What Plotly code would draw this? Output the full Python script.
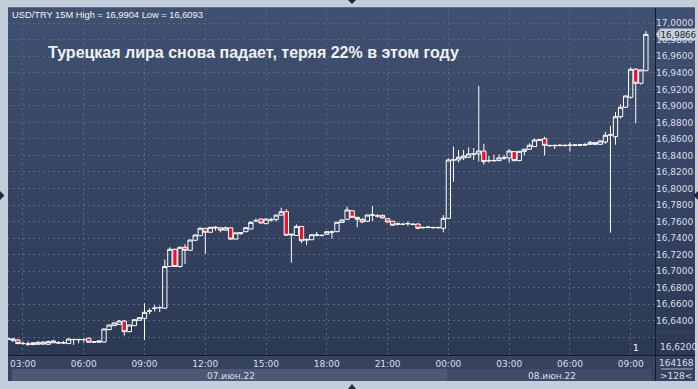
import plotly.graph_objects as go
import pandas as pd

# ---------------- data ----------------
times = pd.date_range("2022-06-07 02:15", periods=127, freq="15min")

opens = [
    16.6176, 16.6180, 16.6166, 16.6122, 16.6114, 16.6110, 16.6114, 16.6140, 16.6114, 16.6154,
    16.6130, 16.6130, 16.6122, 16.6170, 16.6168, 16.6170, 16.6188, 16.6140, 16.6138, 16.6141,
    16.6291, 16.6339, 16.6355, 16.6395, 16.6266, 16.6339, 16.6404, 16.6428, 16.6515, 16.6548,
    16.6555, 16.6551, 16.7056, 16.7264, 16.7056, 16.7288, 16.7252, 16.7373, 16.7428, 16.7518,
    16.7470, 16.7522, 16.7524, 16.7496, 16.7524, 16.7387, 16.7453, 16.7477, 16.7509, 16.7608,
    16.7630, 16.7574, 16.7620, 16.7626, 16.7678, 16.7719, 16.7437, 16.7431, 16.7540, 16.7377,
    16.7379, 16.7436, 16.7430, 16.7445, 16.7470, 16.7477, 16.7588, 16.7627, 16.7731, 16.7651,
    16.7627, 16.7603, 16.7677, 16.7665, 16.7675, 16.7634, 16.7603, 16.7568, 16.7565, 16.7572,
    16.7565, 16.7570, 16.7524, 16.7528, 16.7524, 16.7524, 16.7518, 16.7639, 16.8343, 16.8345,
    16.8370, 16.8378, 16.8416, 16.8418, 16.8454, 16.8335, 16.8335, 16.8337, 16.8368, 16.8370,
    16.8446, 16.8337, 16.8450, 16.8475, 16.8507, 16.8584, 16.8603, 16.8517, 16.8517, 16.8519,
    16.8518, 16.8521, 16.8522, 16.8523, 16.8527, 16.8535, 16.8555, 16.8535, 16.8563, 16.8646,
    16.8627, 16.8869, 16.8983, 16.9104, 16.9443, 16.9274, 16.9426,
]
highs = [
    16.6185, 16.6183, 16.6180, 16.6150, 16.6150, 16.6135, 16.6150, 16.6152, 16.6158, 16.6168,
    16.6150, 16.6155, 16.6180, 16.6175, 16.6176, 16.6182, 16.6192, 16.6152, 16.6160, 16.6305,
    16.6352, 16.6385, 16.6410, 16.6410, 16.6352, 16.6415, 16.6440, 16.6610, 16.6550, 16.6590,
    16.6580, 16.7140, 16.7288, 16.7270, 16.7295, 16.7325, 16.7380, 16.7442, 16.7530, 16.7522,
    16.7535, 16.7542, 16.7528, 16.7540, 16.7528, 16.7467, 16.7470, 16.7530, 16.7605, 16.7640,
    16.7635, 16.7634, 16.7645, 16.7682, 16.7767, 16.7750, 16.7450, 16.7565, 16.7545, 16.7399,
    16.7444, 16.7475, 16.7445, 16.7482, 16.7490, 16.7596, 16.7624, 16.7780, 16.7736, 16.7655,
    16.7640, 16.7683, 16.7788, 16.7690, 16.7685, 16.7638, 16.7607, 16.7590, 16.7580, 16.7602,
    16.7580, 16.7575, 16.7540, 16.7542, 16.7540, 16.7538, 16.7679, 16.8365, 16.8506, 16.8466,
    16.8466, 16.8498, 16.8490, 16.9241, 16.8539, 16.8394, 16.8409, 16.8412, 16.8406, 16.8475,
    16.8450, 16.8455, 16.8480, 16.8547, 16.8603, 16.8592, 16.8627, 16.8530, 16.8535, 16.8535,
    16.8532, 16.8563, 16.8536, 16.8540, 16.8552, 16.8575, 16.8560, 16.8580, 16.8684, 16.8757,
    16.8926, 16.9017, 16.9125, 16.9467, 16.9459, 16.9440, 16.9904,
]
lows = [
    16.6172, 16.6140, 16.6115, 16.6108, 16.6093, 16.6105, 16.6110, 16.6108, 16.6110, 16.6128,
    16.6120, 16.6120, 16.6120, 16.6106, 16.6125, 16.6135, 16.6135, 16.6130, 16.6135, 16.6135,
    16.6285, 16.6335, 16.6350, 16.6218, 16.6260, 16.6335, 16.6400, 16.6166, 16.6480, 16.6510,
    16.6505, 16.6545, 16.7050, 16.7048, 16.7040, 16.7086, 16.7248, 16.7368, 16.7424, 16.7210,
    16.7466, 16.7490, 16.7470, 16.7492, 16.7383, 16.7383, 16.7440, 16.7470, 16.7505, 16.7590,
    16.7578, 16.7570, 16.7598, 16.7600, 16.7674, 16.7430, 16.7102, 16.7427, 16.7340, 16.7314,
    16.7375, 16.7420, 16.7420, 16.7440, 16.7392, 16.7472, 16.7584, 16.7622, 16.7646, 16.7530,
    16.7580, 16.7598, 16.7603, 16.7645, 16.7638, 16.7590, 16.7550, 16.7552, 16.7555, 16.7548,
    16.7555, 16.7506, 16.7515, 16.7518, 16.7515, 16.7516, 16.7470, 16.7635, 16.8082, 16.8314,
    16.8345, 16.8370, 16.8345, 16.8325, 16.8290, 16.8312, 16.8325, 16.8330, 16.8345, 16.8313,
    16.8330, 16.8330, 16.8399, 16.8470, 16.8503, 16.8580, 16.8399, 16.8505, 16.8478, 16.8510,
    16.8510, 16.8446, 16.8512, 16.8515, 16.8520, 16.8532, 16.8532, 16.8530, 16.8539, 16.7465,
    16.8530, 16.8845, 16.8978, 16.9090, 16.8789, 16.9257, 16.9420,
]
closes = [
    16.6180, 16.6162, 16.6122, 16.6124, 16.6118, 16.6132, 16.6138, 16.6116, 16.6146, 16.6132,
    16.6132, 16.6132, 16.6178, 16.6172, 16.6172, 16.6172, 16.6138, 16.6142, 16.6154, 16.6299,
    16.6347, 16.6371, 16.6395, 16.6266, 16.6347, 16.6411, 16.6436, 16.6501, 16.6519, 16.6552,
    16.6558, 16.7055, 16.7264, 16.7056, 16.7288, 16.7252, 16.7376, 16.7437, 16.7518, 16.7470,
    16.7530, 16.7530, 16.7496, 16.7524, 16.7387, 16.7463, 16.7466, 16.7525, 16.7590, 16.7612,
    16.7582, 16.7630, 16.7622, 16.7678, 16.7719, 16.7434, 16.7445, 16.7540, 16.7367, 16.7380,
    16.7440, 16.7438, 16.7432, 16.7477, 16.7474, 16.7591, 16.7619, 16.7740, 16.7651, 16.7627,
    16.7595, 16.7679, 16.7681, 16.7669, 16.7643, 16.7594, 16.7555, 16.7572, 16.7567, 16.7576,
    16.7567, 16.7518, 16.7528, 16.7532, 16.7528, 16.7528, 16.7639, 16.8345, 16.8347, 16.8378,
    16.8394, 16.8418, 16.8420, 16.8454, 16.8325, 16.8339, 16.8339, 16.8370, 16.8372, 16.8454,
    16.8337, 16.8450, 16.8475, 16.8523, 16.8587, 16.8590, 16.8523, 16.8521, 16.8521, 16.8523,
    16.8522, 16.8525, 16.8526, 16.8527, 16.8531, 16.8559, 16.8535, 16.8575, 16.8644, 16.8650,
    16.8869, 16.8983, 16.9120, 16.9443, 16.9274, 16.9435, 16.9866,
]

price_ticks = [16.62, 16.64, 16.66, 16.68, 16.70, 16.72, 16.74, 16.76, 16.78, 16.80,
               16.82, 16.84, 16.86, 16.88, 16.90, 16.92, 16.94, 16.96, 16.98, 17.00]
time_ticks = ["2022-06-07 03:00", "2022-06-07 06:00", "2022-06-07 09:00", "2022-06-07 12:00",
              "2022-06-07 15:00", "2022-06-07 18:00", "2022-06-07 21:00", "2022-06-08 00:00",
              "2022-06-08 03:00", "2022-06-08 06:00", "2022-06-08 09:00"]
time_labels = ["03:00", "06:00", "09:00", "12:00", "15:00", "18:00", "21:00",
               "00:00", "03:00", "06:00", "09:00"]
date_labels = ["07.июн.22", "08.июн.22"]
last_price = 16.9866
header = "USD/TRY 15M High = 16,9904 Low = 16,6093"
title = "Турецкая лира снова падает, теряя 22% в этом году"

# ---------------- geometry helpers (pixels -> paper) ----------------
W, H = 698, 389
L, R, T, B = 8, 655, 8, 355
PW, PH = R - L, B - T


def px(x):
    return (x - L) / PW


def py(y):
    return 1 - (y - T) / PH


AXIS_FONT = dict(family="DejaVu Sans", size=9, color="#d9dfe8")

fig = go.Figure()
fig.add_trace(go.Candlestick(
    x=times, open=opens, high=highs, low=lows, close=closes,
    increasing=dict(line=dict(color="#ffffff", width=1), fillcolor="rgba(0,0,0,0)"),
    decreasing=dict(line=dict(color="#ffffff", width=1), fillcolor="#e3142e"),
    whiskerwidth=0, hoverinfo="skip", showlegend=False,
))

shapes = []


def hexmix(c1, c2, t):
    a = [int(c1[i:i + 2], 16) for i in (1, 3, 5)]
    b = [int(c2[i:i + 2], 16) for i in (1, 3, 5)]
    return "#" + "".join(f"{round(a[k] + (b[k] - a[k]) * t):02x}" for k in range(3))


# vertical gradient for plot area and price column
N = 30
top_c, bot_c = "#405070", "#2c3955"
for k in range(N):
    y0 = T + (B - T) * k / N
    y1 = T + (B - T) * (k + 1) / N
    shapes.append(dict(type="rect", xref="paper", yref="paper", x0=px(L), x1=px(695),
                       y0=py(y1), y1=py(y0) + 0.002, line=dict(width=0),
                       fillcolor=hexmix(top_c, bot_c, (k + 0.5) / N), layer="below"))
# time axis strip
shapes.append(dict(type="rect", xref="paper", yref="paper", x0=px(L), x1=px(695),
                   y0=py(381), y1=py(B), line=dict(width=0), fillcolor="#36435e", layer="below"))
shapes.append(dict(type="rect", xref="paper", yref="paper", x0=px(12), x1=px(447.5),
                   y0=py(381), y1=py(369), line=dict(width=0), fillcolor="#4b5974", layer="below"))
shapes.append(dict(type="rect", xref="paper", yref="paper", x0=px(447.5), x1=px(652),
                   y0=py(381), y1=py(369), line=dict(width=0), fillcolor="#3e4b66", layer="below"))
# separators
shapes.append(dict(type="line", xref="paper", yref="paper", x0=px(655.5), x1=px(655.5),
                   y0=py(381), y1=py(T), line=dict(color="#141a26", width=1), layer="above"))
shapes.append(dict(type="line", xref="paper", yref="paper", x0=px(L), x1=px(695),
                   y0=py(355.5), y1=py(355.5), line=dict(color="#141a26", width=1), layer="above"))
shapes.append(dict(type="line", xref="paper", yref="paper", x0=px(661), x1=px(693),
                   y0=py(369), y1=py(369), line=dict(color="#aab4c4", width=1), layer="above"))
# price marker arrow
shapes.append(dict(type="path", xref="paper", yref="y", xsizemode="pixel", xanchor=1,
                   ysizemode="pixel", yanchor=last_price,
                   path="M 1,0 L 4,5 L 4,-5 Z", fillcolor="#c9d0da",
                   line=dict(width=0), layer="above"))
# edge triangles
tri = "#1e293c"
shapes.append(dict(type="path", xref="paper", yref="paper",
                   path=f"M {px(348)},{py(0)} L {px(356)},{py(0)} L {px(352)},{py(4)} Z",
                   fillcolor=tri, line=dict(width=0)))
shapes.append(dict(type="path", xref="paper", yref="paper",
                   path=f"M {px(348)},{py(389)} L {px(356)},{py(389)} L {px(352)},{py(384)} Z",
                   fillcolor=tri, line=dict(width=0)))
shapes.append(dict(type="path", xref="paper", yref="paper",
                   path=f"M {px(0)},{py(191)} L {px(0)},{py(200)} L {px(4.5)},{py(195.5)} Z",
                   fillcolor=tri, line=dict(width=0)))
shapes.append(dict(type="path", xref="paper", yref="paper",
                   path=f"M {px(698)},{py(191)} L {px(698)},{py(200)} L {px(693.5)},{py(195.5)} Z",
                   fillcolor=tri, line=dict(width=0)))

annotations = [
    dict(text=header, xref="paper", yref="paper", x=px(10), y=py(15), xanchor="left",
         yanchor="middle", showarrow=False,
         font=dict(family="Liberation Sans", size=9.3, color="#f2f4f7")),
    dict(text=f"<b>{title}</b>", xref="paper", yref="paper", x=px(46), y=py(52),
         xanchor="left", yanchor="middle", showarrow=False,
         font=dict(family="Liberation Sans", size=16, color="#eef1f5")),
    dict(text=f"{last_price:.4f}".replace(".", ","), xref="paper", yref="y", x=px(659),
         y=last_price, xanchor="left", yanchor="middle", showarrow=False,
         bgcolor="#c9d0da", borderpad=0.5,
         font=dict(family="DejaVu Sans", size=8.6, color="#1b2334")),
    dict(text="16,6200", xref="paper", yref="paper", x=px(657.5), y=py(347), xanchor="left",
         yanchor="middle", showarrow=False, font=AXIS_FONT),
    dict(text="1", xref="paper", yref="paper", x=px(636), y=py(348), xanchor="center",
         yanchor="middle", showarrow=False,
         font=dict(family="DejaVu Sans", size=9, color="#ffffff")),
    dict(text="164168", xref="paper", yref="paper", x=px(676), y=py(362.5), xanchor="center",
         yanchor="middle", showarrow=False, font=AXIS_FONT),
    dict(text="&gt;128&lt;", xref="paper", yref="paper", x=px(676), y=py(375.5), xanchor="center",
         yanchor="middle", showarrow=False, font=AXIS_FONT),
    dict(text=date_labels[0], xref="paper", yref="paper", x=px(231), y=py(375.5),
         xanchor="center", yanchor="middle", showarrow=False, font=AXIS_FONT),
    dict(text=date_labels[1], xref="paper", yref="paper", x=px(552), y=py(375.5),
         xanchor="center", yanchor="middle", showarrow=False, font=AXIS_FONT),
]

ytext = [f"{v:.4f}".replace(".", ",") for v in price_ticks]
ytext[0] = ""

grid = dict(showgrid=True, gridcolor="#58667f", gridwidth=1, griddash="2px,3px",
            zeroline=False, showline=False, ticks="", automargin=False)

fig.update_layout(
    width=W, height=H,
    margin=dict(l=L, r=W - R, t=T, b=H - B, autoexpand=False),
    paper_bgcolor="#c2cedb", plot_bgcolor="#34415c",
    shapes=shapes, annotations=annotations,
    boxgap=0.15, boxgroupgap=0.0,
    xaxis=dict(type="date", range=["2022-06-07 02:15:36", "2022-06-08 10:12:00"],
               tickvals=time_ticks, ticktext=time_labels, tickfont=AXIS_FONT,
               ticklabelstandoff=2,
               rangeslider=dict(visible=False), fixedrange=True, **grid),
    yaxis=dict(range=[16.5984, 17.0185], side="right", tickvals=price_ticks,
               ticktext=ytext, tickfont=AXIS_FONT, fixedrange=True,
               ticklabelstandoff=0, **grid),
)

fig.write_html(
    "out.html",
    config={"displayModeBar": False, "staticPlot": True},
    post_script="document.body.style.margin='0';document.body.style.overflow='hidden';",
)
